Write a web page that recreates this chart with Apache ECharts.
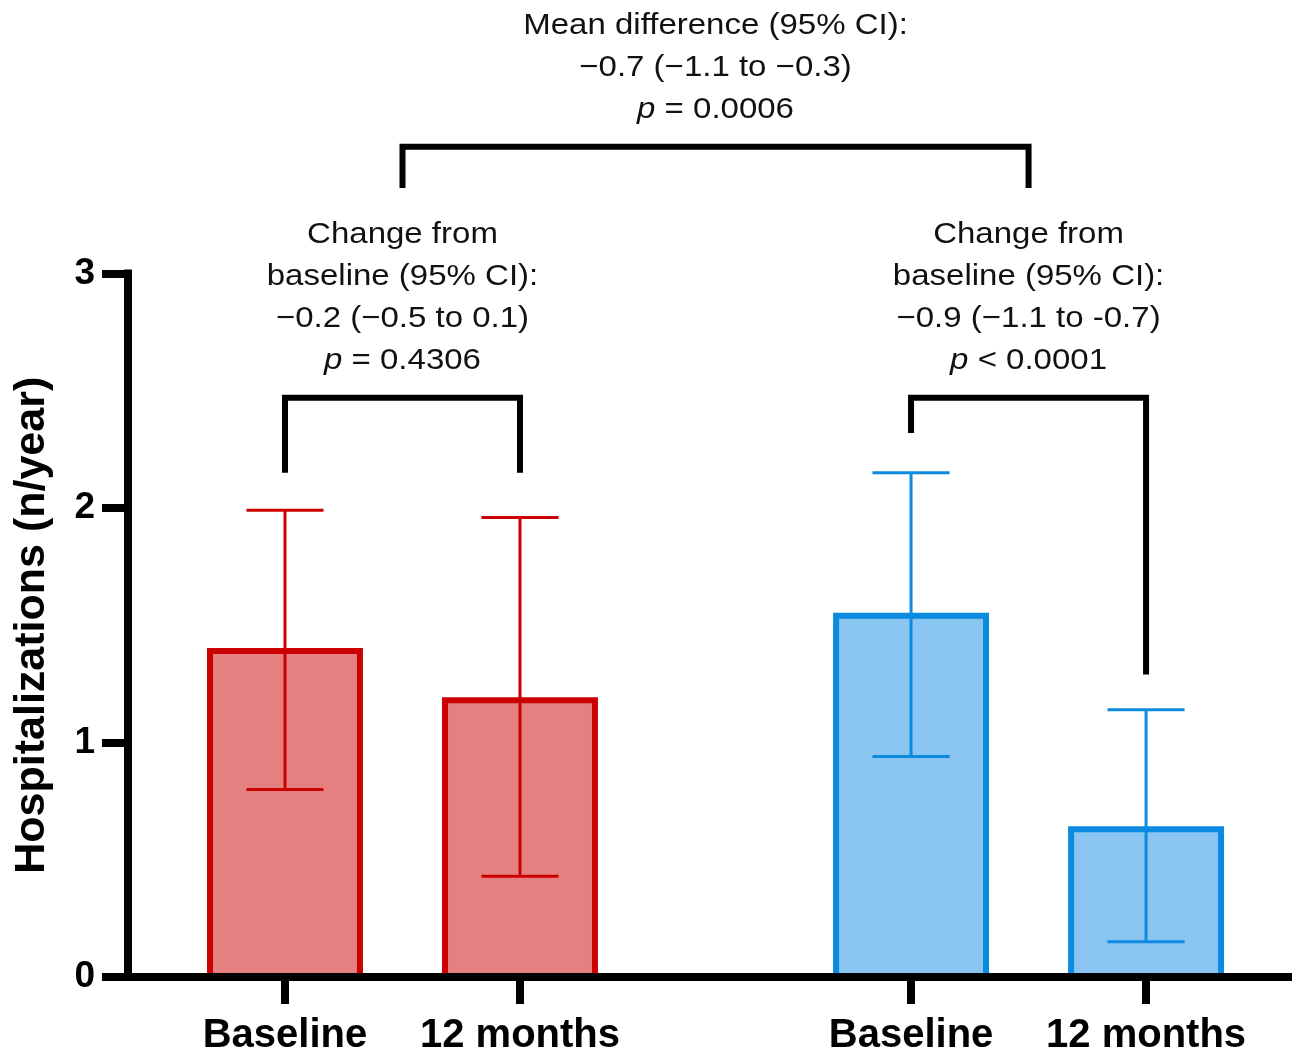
<!DOCTYPE html>
<html><head><meta charset="utf-8">
<script src="https://cdn.jsdelivr.net/npm/echarts@6/dist/echarts.min.js"></script>
<style>html,body{margin:0;padding:0;background:#fff}#c{width:1292px;height:1055px}</style>
</head><body><div id="c"></div>
<script>
// ---- data ----
const categories = ['Baseline', '12 months', 'Baseline', '12 months'];
const groupOf = [0, 0, 1, 1];
const means = [1.39, 1.18, 1.54, 0.63];
const upperErr = [1.99, 1.96, 2.15, 1.14];
const lowerErr = [0.80, 0.43, 0.94, 0.15];
const yTickValues = [0, 1, 2, 3];
// brackets (slot indices may be fractional = midpoint of two slots)
const bracketFrom = [0, 2, 0.5];
const bracketTo = [1, 3, 2.5];
const bracketLevel = [2.47, 2.47, 3.54];
const bracketLeftEnd = [2.15, 2.32, 3.365];
const bracketRightEnd = [2.15, 1.29, 3.365];
const annotationLines = [
  ['Change from', 'baseline (95% CI):', '\u22120.2 (\u22120.5 to 0.1)', '{i|p} = 0.4306'],
  ['Change from', 'baseline (95% CI):', '\u22120.9 (\u22121.1 to -0.7)', '{i|p} < 0.0001'],
  ['Mean difference (95% CI):', '\u22120.7 (\u22121.1 to \u22120.3)', '{i|p} = 0.0006']
];

// ---- layout / style ----
const F = '"Liberation Sans", Arial, Helvetica, sans-serif';
const GROUP_GAP = 0.664;
const BAR_W = 0.638;
const CAP_W = 0.328;
const fills = ['#e48080', '#89c5f0'];
const strokes = ['#cc0000', '#0b8be0'];

function slotX(i) { return 1 + i + groupOf[i] * GROUP_GAP; }
function slotPos(s) {
  const a = Math.floor(s), b = Math.ceil(s);
  if (a === b) return slotX(a);
  return slotX(a) + (slotX(b) - slotX(a)) * (s - a);
}
const xPositions = categories.map((_, i) => slotX(i));

const barData = categories.map((c, i) => [xPositions[i], means[i], upperErr[i], lowerErr[i]]);
const bracketData = bracketFrom.map((f, i) => [slotPos(f), slotPos(bracketTo[i]), bracketLevel[i], bracketLeftEnd[i], bracketRightEnd[i]]);

const chart = echarts.init(document.getElementById('c'));
chart.setOption({
  animation: false,
  backgroundColor: '#fff',
  grid: { left: 128, right: 0, top: 273.5, bottom: 78, containLabel: false, outerBoundsMode: 'none' },
  xAxis: {
    type: 'value', min: 0.332, max: 5.285, z: 10,
    axisLine: { show: true, onZero: false, lineStyle: { color: '#000', width: 8, cap: 'square' } },
    axisTick: { show: true, customValues: xPositions, length: 27, lineStyle: { color: '#000', width: 8 } },
    axisLabel: {
      customValues: xPositions,
      formatter: function (v) {
        for (let i = 0; i < xPositions.length; i++) if (Math.abs(v - xPositions[i]) < 1e-6) return categories[i];
        return '';
      },
      fontSize: 40, fontWeight: 'bold', color: '#000', fontFamily: F, margin: 39
    },
    splitLine: { show: false }
  },
  yAxis: {
    type: 'value', min: 0, max: 3, interval: 1, z: 10,
    name: 'Hospitalizations (n/year)', nameLocation: 'middle', nameGap: 74, nameRotate: 90,
    nameTextStyle: { fontSize: 43, fontWeight: 'bold', color: '#000', fontFamily: F },
    axisLine: { show: true, lineStyle: { color: '#000', width: 8, cap: 'square' } },
    axisTick: { show: true, length: 26, lineStyle: { color: '#000', width: 8 } },
    axisLabel: { fontSize: 37, fontWeight: 'bold', color: '#000', fontFamily: F, margin: 33,
      customValues: yTickValues },
    splitLine: { show: false }
  },
  series: [
    {
      type: 'custom', clip: false, z: 2,
      data: barData,
      renderItem: function (params, api) {
        const i = params.dataIndex, g = groupOf[i];
        const x = api.value(0), m = api.value(1), hi = api.value(2), lo = api.value(3);
        const top = api.coord([x, m]);
        const base = api.coord([x, 0]);
        const halfW = api.size([BAR_W, 0])[0] / 2;
        const capHalf = api.size([CAP_W, 0])[0] / 2;
        const pHi = api.coord([x, hi]), pLo = api.coord([x, lo]);
        const es = { stroke: strokes[g], lineWidth: 3 };
        return {
          type: 'group',
          children: [
            { type: 'rect', shape: { x: top[0] - halfW, y: top[1], width: 2 * halfW, height: base[1] - top[1] },
              style: { fill: fills[g], stroke: strokes[g], lineWidth: 6 } },
            { type: 'line', shape: { x1: pLo[0], y1: pLo[1], x2: pHi[0], y2: pHi[1] }, style: es },
            { type: 'line', shape: { x1: pHi[0] - capHalf, y1: pHi[1], x2: pHi[0] + capHalf, y2: pHi[1] }, style: es },
            { type: 'line', shape: { x1: pLo[0] - capHalf, y1: pLo[1], x2: pLo[0] + capHalf, y2: pLo[1] }, style: es }
          ]
        };
      }
    },
    {
      type: 'custom', clip: false, z: 3,
      data: bracketData,
      renderItem: function (params, api) {
        const i = params.dataIndex;
        const x1 = api.value(0), x2 = api.value(1), lv = api.value(2), le = api.value(3), re = api.value(4);
        const a = api.coord([x1, le]), b = api.coord([x1, lv]), c = api.coord([x2, lv]), d = api.coord([x2, re]);
        const children = [{
          type: 'polyline', shape: { points: [a, b, c, d] },
          style: { stroke: '#000', lineWidth: 6, fill: null, lineJoin: 'miter' }
        }];
        const lines = annotationLines[i];
        const cx = (b[0] + c[0]) / 2;
        const n = lines.length;
        for (let k = 0; k < n; k++) {
          children.push({
            type: 'text', x: cx, y: b[1] - 37 - 42 * (n - 1 - k), scaleX: 1.1,
            style: {
              text: lines[k], fontSize: 30, fontFamily: F, fill: '#111',
              align: 'center', verticalAlign: 'middle',
              rich: { i: { fontStyle: 'italic', fontSize: 30, fontFamily: F, fill: '#111' } }
            }
          });
        }
        return { type: 'group', children: children };
      }
    }
  ]
});
</script></body></html>
